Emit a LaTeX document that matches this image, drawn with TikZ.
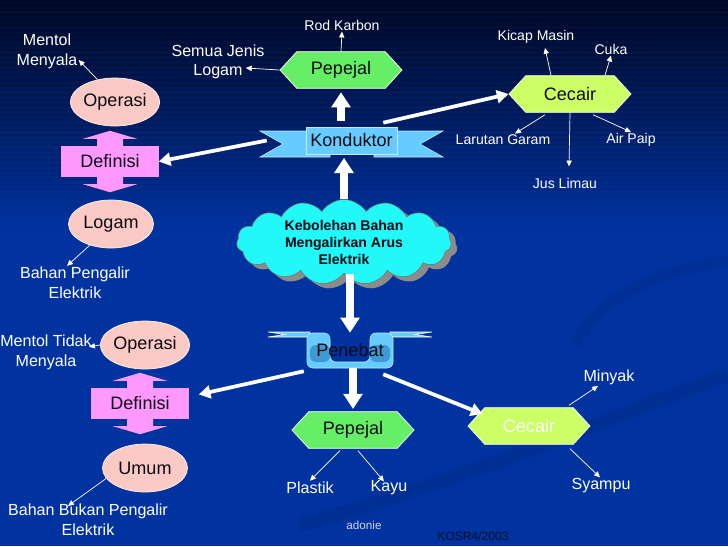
\documentclass[tikz,border=0pt]{standalone}
\usepackage{fontspec}
\setmainfont{Liberation Sans}
\usetikzlibrary{positioning,calc,shapes.geometric,shapes.symbols,shadows,arrows.meta}
\definecolor{bgtop}{HTML}{000A2C}
\definecolor{bgblue}{HTML}{0033A0}
\definecolor{ellpink}{HTML}{FCCAC4}
\definecolor{defpink}{HTML}{FF99FF}
\definecolor{solgreen}{HTML}{66EE66}
\definecolor{liqlime}{HTML}{CCFF66}
\definecolor{ribblue}{HTML}{66CCFF}
\definecolor{ribdeep}{HTML}{3F9AD2}
\definecolor{cloudcyan}{HTML}{22F8F8}
\definecolor{inkdark}{HTML}{0A0A14}

% arrow heads above and below a Definisi box
\newcommand{\defheads}[1]{%
  \begin{scope}[shift={(#1.north)}]
    \fill[defpink] (-13,0.5) -- (-13,-7) -- (-27,-7) -- (0,-15) -- (27,-7) -- (13,-7) -- (13,0.5) -- cycle;
  \end{scope}
  \begin{scope}[shift={(#1.south)}]
    \fill[defpink] (-13,-0.5) -- (-13,7) -- (-27,7) -- (0,15) -- (27,7) -- (13,7) -- (13,-0.5) -- cycle;
  \end{scope}}

\begin{document}
\begin{tikzpicture}[x=0.03cm, y=-0.03cm,
  ellnode/.style={ellipse, draw=white!80!ellpink, line width=0.6pt, fill=ellpink, minimum width=2.55cm, minimum height=1.44cm, inner sep=0pt, text=inkdark, font=\fontsize{15.4}{18}\selectfont},
  defbox/.style={rectangle, fill=defpink, minimum width=2.91cm, minimum height=0.93cm, inner sep=0pt, text=inkdark, font=\fontsize{15.4}{18}\selectfont},
  hexnode/.style={signal, signal to=east and west, signal pointer angle=95, draw=white, line width=0.6pt, minimum width=3.66cm, minimum height=1.1cm, inner sep=0pt, text=inkdark, font=\fontsize{15.4}{18}\selectfont},
  lbl/.style={text=white, align=center, inner sep=1pt, font=\fontsize{13.7}{16.8}\selectfont},
  lblsm/.style={lbl, font=\fontsize{12}{14.4}\selectfont},
  thinarr/.style={white, line width=0.6pt, -{Triangle[width=4.5pt,length=5pt]}},
  fatarr/.style={white, line width=3.2pt, -{Triangle[width=11pt,length=10pt]}},
  blockarr/.style={white, line width=6.5pt, -{Triangle[width=16pt,length=13pt]}},
]
\useasboundingbox (0,0) rectangle (728,546);
% background
\fill[bgblue] (0,0) rectangle (728,546);
\shade[top color=bgtop, bottom color=bgblue] (0,0) rectangle (728,230);
\foreach \k in {0,...,44} {
  \pgfmathsetmacro{\op}{0.3*(1-\k/45)}
  \draw[black, opacity=\op, line width=1.4pt] (0,5*\k) -- (728,5*\k);
}
\draw[black!50!bgblue, opacity=0.14, line width=12pt] (300,525) .. controls (500,470) and (650,400) .. (728,375);
\draw[black!50!bgblue, opacity=0.12, line width=10pt] (575,345) .. controls (600,290) and (680,265) .. (728,262);

% ribbon wings (Konduktor, Penebat)
\filldraw[ribblue, draw=white!60!ribblue, line width=0.5pt] (260,131) -- (330,131) -- (330,157) -- (260,157) -- (283,144) -- cycle;
\filldraw[ribblue, draw=white!60!ribblue, line width=0.5pt] (443,131) -- (374,131) -- (374,157) -- (443,157) -- (420,144) -- cycle;
\filldraw[ribblue, draw=white, line width=0.5pt] (268,332) -- (310,332) -- (310,337) -- (268,337) -- (285,334.5) -- cycle;
\filldraw[ribblue, draw=white, line width=0.5pt] (432,332) -- (390,332) -- (390,337) -- (432,337) -- (415,334.5) -- cycle;
\filldraw[ribblue, draw=white!60!ribblue, line width=0.5pt, rounded corners=5] (307,333) -- (330,333) -- (330,362) -- (370,362) -- (370,333) -- (393,333) -- (393,368) -- (307,368) -- cycle;
\fill[ribdeep, rounded corners=5] (310,345) rectangle (330,362);
\fill[ribdeep, rounded corners=5] (370,345) rectangle (390,362);

% upper half
\node[ellnode] (ope1) at (115,102) {Operasi};
\node[defbox] (def1) at (110,161.5) {Definisi};
\defheads{def1}
\node[ellnode] (log1) at (111,224) {Logam};
\node[lbl] (men1) at (47,51.5) {Mentol\\Menyala};
\node[lbl] (bpe) at (75,283) {Bahan Pengalir\\Elektrik};
\node[lbl] (sjl) at (218,62) {Semua Jenis\\Logam};
\node[lblsm] (rod) at (342,25) {Rod Karbon};
\node[hexnode, fill=solgreen] (pep1) at (341,70) {Pepejal};
\node[rectangle, fill=ribblue, draw=white!60!ribblue, line width=0.5pt, minimum width=2.73cm, minimum height=0.81cm, inner sep=0pt, text=inkdark, font=\fontsize{15.4}{18}\selectfont] (kon) at (351.5,140.5) {Konduktor};
\node[cloud, cloud puffs=15, cloud puff arc=115, cloud ignores aspect, fill=cloudcyan, draw=black!55, line width=0.5pt, minimum width=6.45cm, minimum height=2.55cm, inner sep=0pt, drop shadow={shadow xshift=5pt, shadow yshift=-4pt, fill=gray!90, opacity=1}, align=center, text=inkdark, font=\bfseries\fontsize{12}{14.5}\selectfont] (cloud) at (344,242) {Kebolehan Bahan\\Mengalirkan Arus\\Elektrik};
\node[hexnode, fill=liqlime] (cec1) at (570,94) {Cecair};
\node[lblsm] (kic) at (536,37) {Kicap Masin};
\node[lblsm] (cuk) at (611,49) {Cuka};
\node[lblsm] (lar) at (503,140) {Larutan Garam};
\node[lblsm] (air) at (631,140) {Air Paip};
\node[lblsm] (jus) at (565,183) {Jus Limau};

% lower half
\node[minimum width=2.52cm, minimum height=1.05cm, inner sep=0pt, text=inkdark, font=\fontsize{15.4}{18}\selectfont] (pen) at (350,350.5) {Penebat};
\node[ellnode] (ope2) at (145,345) {Operasi};
\node[defbox] (def2) at (140,403.5) {Definisi};
\defheads{def2}
\node[ellnode] (umu) at (145,468) {Umum};
\node[lbl] (mtd) at (46,352.5) {Mentol Tidak\\Menyala};
\node[lbl] (bbp) at (88,520) {Bahan Bukan Pengalir\\Elektrik};
\node[hexnode, fill=solgreen] (pep2) at (353,430) {Pepejal};
\node[lbl] (pla) at (310,488) {Plastik};
\node[lbl] (kay) at (389,488) {Kayu};
\node[hexnode, fill=liqlime, text=white] (cec2) at (529,426) {Cecair};
\node[lbl] (min) at (609,377) {Minyak};
\node[lbl] (sya) at (601,486) {Syampu};
\node[text=white!80!bgblue, inner sep=1pt, font=\fontsize{10}{12}\selectfont] (ado) at (364,525) {adonie};
\node[text=black!75!bgblue, inner sep=1pt, font=\fontsize{10.3}{12}\selectfont] (kos) at (473,536) {KOSR4/2003};

% block arrows
\draw[blockarr, shorten <=5pt, shorten >=3pt] (kon.north -| pep1.south) -- (pep1.south);
\draw[blockarr, shorten >=3pt] (cloud.north) -- (cloud.north |- kon.south);
\draw[blockarr] (cloud.south -| pen.north) -- (pen.north);
\draw[blockarr, shorten >=2pt] (pen.south -| pep2.north) -- (pep2.north);
\draw[fatarr] ($(kon.west)+(-39,0)$) -- (def1.east);
\draw[fatarr] ($(kon.north east)+(-14,-4)$) -- (cec1.west);
\draw[fatarr] ($(pen.south west)+(-4,3)$) -- ($(def2.east)+(10,-9)$);
\draw[fatarr] ($(pen.south east)+(-9,6)$) -- ($(cec2.west)+(15,-12)$);

% thin arrows to the examples
\draw[thinarr] (ope1.128) -- (men1.-15);
\draw[thinarr] (log1.225) -- (bpe.115);
\draw[thinarr] (pep1.north) -- (rod.south);
\draw[thinarr] (pep1.west) -- ($(sjl.east)+(-20,6)$);
\draw[thinarr] ($(cec1.north)+(-19,0)$) -- ($(kic.south)+(9,3)$);
\draw[thinarr] ($(cec1.north)+(35,0)$) -- (cuk.south);
\draw[thinarr] ($(cec1.south)+(-25,2)$) -- ($(lar.north)+(12,0)$);
\draw[thinarr] ($(cec1.south)+(23,2)$) -- (air.north);
\draw[thinarr] (cec1.south) -- ($(jus.north)+(4,-10)$);
\draw[thinarr] (ope2.west) -- ($(mtd.north east)+(-4,13)$);
\draw[thinarr] (umu.195) -- ($(bbp.north)+(-20,3)$);
\draw[thinarr] ($(pep2.south)+(-13,2)$) -- (pla.north);
\draw[thinarr] ($(pep2.south)+(5,2)$) -- ($(kay.north)+(-5,2)$);
\draw[thinarr] ($(cec2.north)+(40,-2)$) -- ($(min.south)+(-11,0)$);
\draw[thinarr] ($(cec2.south)+(41,4)$) -- ($(sya.north)+(-1,0)$);
\end{tikzpicture}
\end{document}
